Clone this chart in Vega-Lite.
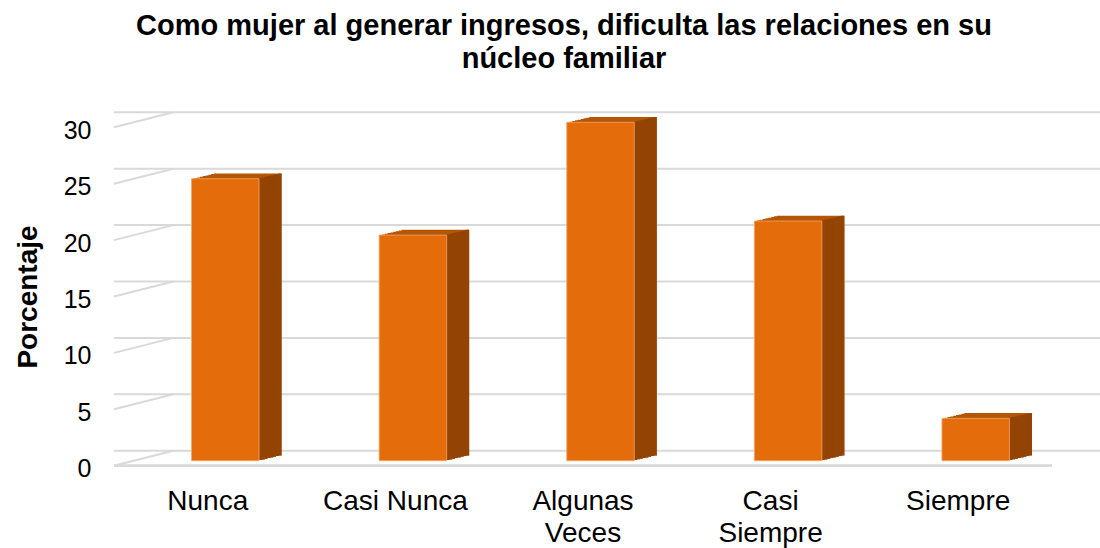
{
  "$schema": "https://vega.github.io/schema/vega-lite/v6.json",
  "autosize": "none",
  "width": 938,
  "height": 338.4,
  "padding": {"left": 114, "top": 127.3, "right": 48, "bottom": 82.3},
  "background": "white",
  "config": {
    "font": "Liberation Sans",
    "view": {"stroke": null},
    "axis": {"labelFont": "Liberation Sans", "titleFont": "Liberation Sans"}
  },
  "title": {
    "text": ["Como mujer al generar ingresos, dificulta las relaciones en su", "núcleo familiar"],
    "font": "Liberation Sans",
    "fontSize": 29,
    "fontWeight": "bold",
    "color": "#000000",
    "lineHeight": 33,
    "anchor": "middle",
    "frame": "group",
    "dx": -19,
    "dy": -33
  },
  "data": {
    "values": [
      {"cat": "Nunca", "v": 25},
      {"cat": "Casi Nunca", "v": 20},
      {"cat": "Algunas Veces", "v": 30},
      {"cat": "Casi Siempre", "v": 21.25},
      {"cat": "Siempre", "v": 3.75}
    ]
  },
  "encoding": {
    "x": {
      "field": "cat", "type": "nominal", "sort": null,
      "scale": {"paddingInner": 0, "paddingOuter": 0},
      "axis": {
        "title": null, "domain": false, "ticks": false, "grid": false,
        "labelAngle": 0, "labelFontSize": 28, "labelColor": "#000000",
        "labelPadding": 22, "labelLineHeight": 32, "labelLimit": 300,
        "labelExpr": "datum.label == 'Casi Nunca' ? datum.label : split(datum.label, ' ')"
      }
    }
  },
  "layer": [
    {
      "data": {"values": [{"t": 0}, {"t": 5}, {"t": 10}, {"t": 15}, {"t": 20}, {"t": 25}, {"t": 30}]},
      "mark": {"type": "rule", "stroke": "#d9d9d9", "strokeWidth": 2, "xOffset": 59.3, "x2Offset": 59.3, "yOffset": -15},
      "encoding": {
        "x": null,
        "y": {
          "field": "t", "type": "quantitative",
          "scale": {"domain": [0, 30], "nice": false},
          "axis": {
            "title": "Porcentaje", "titleFontSize": 28, "titleFontWeight": "bold", "titleColor": "#000000",
            "titlePadding": 21, "values": [0, 5, 10, 15, 20, 25, 30],
            "domain": false, "ticks": false, "grid": false,
            "labelFontSize": 25, "labelColor": "#000000", "labelPadding": 23, "labelOffset": 3
          }
        }
      }
    },
    {
      "data": {"values": [{"t": 0}, {"t": 5}, {"t": 10}, {"t": 15}, {"t": 20}, {"t": 25}, {"t": 30}]},
      "mark": {"type": "rule", "stroke": "#d9d9d9", "strokeWidth": 2, "x2Offset": 59.3, "y2Offset": -15},
      "encoding": {
        "x": {"datum": "Nunca", "type": "nominal", "bandPosition": 0},
        "x2": {"datum": "Nunca", "bandPosition": 0},
        "y": {"field": "t", "type": "quantitative"},
        "y2": {"field": "t"}
      }
    },
    {
      "mark": {"type": "rule", "stroke": "#d9d9d9", "strokeWidth": 2},
      "encoding": {"x": null, "y": {"datum": 0, "type": "quantitative"}}
    },
    {"mark": {"type": "bar", "color": "#B35606", "width": 67.5, "xOffset": 20.3125, "x2Offset": 20.3125, "yOffset": -5.6625, "y2Offset": -5.6625}, "encoding": {"y": {"field": "v", "type": "quantitative"}}},
    {"mark": {"type": "bar", "color": "#B35606", "width": 67.5, "xOffset": 23.125, "x2Offset": 23.125, "yOffset": -6.325, "y2Offset": -6.325}, "encoding": {"y": {"field": "v", "type": "quantitative"}}},
    {"mark": {"type": "bar", "color": "#B35606", "width": 67.5, "xOffset": 25.9375, "x2Offset": 25.9375, "yOffset": -6.9875, "y2Offset": -6.9875}, "encoding": {"y": {"field": "v", "type": "quantitative"}}},
    {"mark": {"type": "bar", "color": "#B35606", "width": 67.5, "xOffset": 28.75, "x2Offset": 28.75, "yOffset": -7.65, "y2Offset": -7.65}, "encoding": {"y": {"field": "v", "type": "quantitative"}}},
    {"mark": {"type": "bar", "color": "#B35606", "width": 67.5, "xOffset": 31.5625, "x2Offset": 31.5625, "yOffset": -8.3125, "y2Offset": -8.3125}, "encoding": {"y": {"field": "v", "type": "quantitative"}}},
    {"mark": {"type": "bar", "color": "#B35606", "width": 67.5, "xOffset": 34.375, "x2Offset": 34.375, "yOffset": -8.975, "y2Offset": -8.975}, "encoding": {"y": {"field": "v", "type": "quantitative"}}},
    {"mark": {"type": "bar", "color": "#B35606", "width": 67.5, "xOffset": 37.1875, "x2Offset": 37.1875, "yOffset": -9.6375, "y2Offset": -9.6375}, "encoding": {"y": {"field": "v", "type": "quantitative"}}},
    {"mark": {"type": "bar", "color": "#B35606", "width": 67.5, "xOffset": 40.0, "x2Offset": 40.0, "yOffset": -10.3, "y2Offset": -10.3}, "encoding": {"y": {"field": "v", "type": "quantitative"}}},
    {"mark": {"type": "bar", "color": "#934405", "width": 3.3, "xOffset": 52.4125, "x2Offset": 52.4125, "yOffset": -5.6625, "y2Offset": -5.6625}, "encoding": {"y": {"field": "v", "type": "quantitative"}}},
    {"mark": {"type": "bar", "color": "#934405", "width": 3.3, "xOffset": 55.225, "x2Offset": 55.225, "yOffset": -6.325, "y2Offset": -6.325}, "encoding": {"y": {"field": "v", "type": "quantitative"}}},
    {"mark": {"type": "bar", "color": "#934405", "width": 3.3, "xOffset": 58.0375, "x2Offset": 58.0375, "yOffset": -6.9875, "y2Offset": -6.9875}, "encoding": {"y": {"field": "v", "type": "quantitative"}}},
    {"mark": {"type": "bar", "color": "#934405", "width": 3.3, "xOffset": 60.85, "x2Offset": 60.85, "yOffset": -7.65, "y2Offset": -7.65}, "encoding": {"y": {"field": "v", "type": "quantitative"}}},
    {"mark": {"type": "bar", "color": "#934405", "width": 3.3, "xOffset": 63.6625, "x2Offset": 63.6625, "yOffset": -8.3125, "y2Offset": -8.3125}, "encoding": {"y": {"field": "v", "type": "quantitative"}}},
    {"mark": {"type": "bar", "color": "#934405", "width": 3.3, "xOffset": 66.475, "x2Offset": 66.475, "yOffset": -8.975, "y2Offset": -8.975}, "encoding": {"y": {"field": "v", "type": "quantitative"}}},
    {"mark": {"type": "bar", "color": "#934405", "width": 3.3, "xOffset": 69.2875, "x2Offset": 69.2875, "yOffset": -9.6375, "y2Offset": -9.6375}, "encoding": {"y": {"field": "v", "type": "quantitative"}}},
    {"mark": {"type": "bar", "color": "#934405", "width": 3.3, "xOffset": 72.1, "x2Offset": 72.1, "yOffset": -10.3, "y2Offset": -10.3}, "encoding": {"y": {"field": "v", "type": "quantitative"}}},
    {"mark": {"type": "bar", "color": "#E46C0A", "stroke": "#F2A46A", "strokeWidth": 0.8, "width": 67.5, "xOffset": 17.5, "x2Offset": 17.5, "yOffset": -5, "y2Offset": -5}, "encoding": {"y": {"field": "v", "type": "quantitative"}}}
  ]
}
